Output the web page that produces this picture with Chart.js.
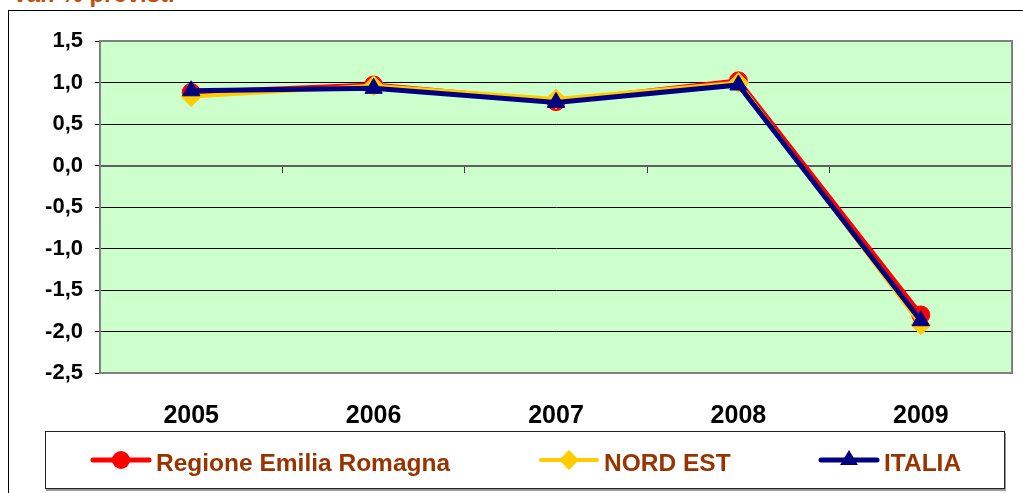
<!DOCTYPE html>
<html>
<head>
<meta charset="utf-8">
<script src="https://cdn.jsdelivr.net/npm/chart.js@4/dist/chart.umd.min.js"></script>
<style>
  html, body { margin:0; padding:0; background:#fff; width:1023px; height:493px; overflow:hidden; font-family:"Liberation Sans", Arial, sans-serif; }
  #frame { position:absolute; left:8px; top:10px; width:1030px; height:500px; border:1px solid #000; box-sizing:border-box; }
  #title { position:absolute; left:12px; top:-18px; font-size:24px; font-weight:bold; color:#C0500A; white-space:nowrap; line-height:24px; }
  canvas { position:absolute; left:0; top:0; }
  #legend { position:absolute; left:45px; top:431px; width:960px; height:58px; border:1px solid #222; box-sizing:border-box; box-shadow:1px 2px 0 #999; background:#fff; }
  .item { position:absolute; top:0; height:58px; }
  .item svg { position:absolute; top:18px; left:0; }
  .item span { position:absolute; top:19px; font-size:24.5px; line-height:24px; font-weight:bold; color:#993300; white-space:nowrap; }
</style>
</head>
<body>
<div id="frame"></div>
<div id="title">Var. % previsti</div>
<canvas id="c" width="1023" height="493"></canvas>
<div id="legend"></div>
<script>
const categories = ["2005", "2006", "2007", "2008", "2009"];
const regioneER = [0.88, 0.97, 0.77, 1.02, -1.80];
const nordEst   = [0.83, 0.96, 0.80, 1.00, -1.92];
const italia    = [0.90, 0.93, 0.76, 0.97, -1.87];
const seriesNames = ["Regione Emilia Romagna", "NORD EST", "ITALIA"];
const yTicks = [1.5, 1.0, 0.5, 0.0, -0.5, -1.0, -1.5, -2.0, -2.5];

const bgPlugin = {
  id: 'bg',
  beforeDraw(chart) {
    const {ctx, chartArea: a} = chart;
    ctx.save();
    ctx.fillStyle = '#CCFFCC';
    ctx.fillRect(a.left, a.top, a.right - a.left, a.bottom - a.top);
    ctx.restore();
  },
  beforeDatasetsDraw(chart) {
    const {ctx, chartArea: a} = chart;
    ctx.save();
    ctx.strokeStyle = '#808080';
    ctx.lineWidth = 2;
    ctx.strokeRect(a.left, a.top, a.right - a.left, a.bottom - a.top);
    ctx.restore();
  }
};

const font = { family: "'Liberation Sans', Arial, sans-serif", weight: 'bold' };

new Chart(document.getElementById('c'), {
  type: 'line',
  data: {
    labels: categories,
    datasets: [
      { label: seriesNames[0], data: regioneER, borderColor: '#FF0000', backgroundColor: '#FF0000', borderWidth: 5,
        pointStyle: 'circle', pointRadius: 9, pointBorderWidth: 1, order: 3, xAxisID: 'x' },
      { label: seriesNames[1], data: nordEst, borderColor: '#FFCC00', backgroundColor: '#FFCC00', borderWidth: 4,
        pointStyle: 'rectRot', pointRadius: 10, pointBorderWidth: 1, order: 2, xAxisID: 'x' },
      { label: seriesNames[2], data: italia, borderColor: '#000080', backgroundColor: '#000080', borderWidth: 5,
        pointStyle: 'triangle', pointRadius: 10, pointBorderWidth: 1, order: 1, xAxisID: 'x' }
    ]
  },
  options: {
    responsive: false,
    animation: false,
    layout: { padding: { left: 0, top: 41, right: 8, bottom: 0 } },
    plugins: { legend: { display: false }, tooltip: { enabled: false } },
    scales: {
      y: {
        min: -2.5, max: 1.5,
        afterBuildTicks(s) { s.ticks = yTicks.map(v => ({ value: v })); },
        afterFit(s) { s.width = 100; },
        ticks: {
          font: { ...font, size: 22 }, color: '#000', padding: 12,
          callback: v => Number(v).toFixed(1).replace('.', ',')
        },
        grid: {
          color: ctx => (ctx.tick && ctx.tick.value === 0) ? 'rgba(0,0,0,0)' : '#000',
          tickColor: '#000', tickLength: 5, lineWidth: 1
        },
        border: { display: true, color: '#000', width: 1 }
      },
      x: {
        position: 'bottom',
        offset: true,
        afterFit(s) { s.height = 120; },
        ticks: { font: { ...font, size: 25 }, color: '#000', padding: 28, maxRotation: 0 },
        grid: { display: false, drawTicks: false },
        border: { display: false }
      },
      x2: {
        type: 'category',
        labels: categories,
        axis: 'x',
        position: { y: 0 },
        offset: true,
        ticks: { color: 'rgba(0,0,0,0)', font: { size: 1 } },
        grid: { offset: true, drawOnChartArea: false, drawTicks: true, tickLength: 6, tickColor: '#404040', lineWidth: 1 },
        border: { display: true, color: '#606060', width: 2 }
      }
    }
  },
  plugins: [bgPlugin]
});

// HTML legend
const legendDefs = [
  { x: 45, textX: 110, color: '#FF0000', marker: 'circle', lw: 5 },
  { x: 493, textX: 558, color: '#FFCC00', marker: 'diamond', lw: 4 },
  { x: 773, textX: 838, color: '#000080', marker: 'triangle', lw: 5 }
];
const lg = document.getElementById('legend');
seriesNames.forEach((name, i) => {
  const d = legendDefs[i];
  const it = document.createElement('div');
  it.className = 'item';
  it.style.left = d.x + 'px';
  let m = '';
  if (d.marker === 'circle') m = `<circle cx="30" cy="10" r="9" fill="${d.color}"/>`;
  if (d.marker === 'diamond') m = `<polygon points="30,0 40,10 30,20 20,10" fill="${d.color}"/>`;
  if (d.marker === 'triangle') m = `<polygon points="30,0 39,15 21,15" fill="${d.color}"/>`;
  it.innerHTML = `<svg width="62" height="22" viewBox="0 0 62 22" style="overflow:visible"><line x1="2" y1="10" x2="58" y2="10" stroke="${d.color}" stroke-width="${d.lw}" stroke-linecap="round"/>${m}</svg><span style="left:${d.textX - d.x + 0}px">${name}</span>`;
  lg.appendChild(it);
});
</script>
</body>
</html>
